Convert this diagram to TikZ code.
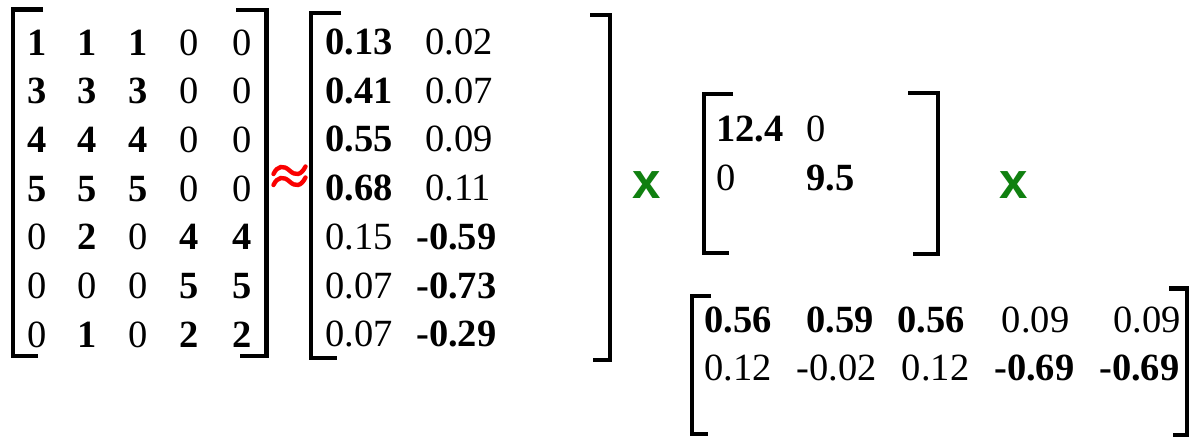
\documentclass[tikz,border=0pt]{standalone}
\usepackage{fontspec}
\setmainfont{Liberation Serif}
\newfontfamily\xsans{Liberation Sans}
\newcommand\cellfont{\fontsize{38.5}{40}\selectfont}
\definecolor{opgreen}{RGB}{16,128,16}
\definecolor{aprxred}{RGB}{250,0,0}
\tikzset{
  ent/.style={inner sep=0pt, anchor=base west, font=\cellfont},
  entb/.style={ent, font=\cellfont\bfseries},
  cen/.style={inner sep=0pt, anchor=base, font=\cellfont},
  cenb/.style={cen, font=\cellfont\bfseries},
  brk/.style={line width=4.2pt, line join=miter, line cap=butt},
  opx/.style={inner sep=0pt, text=opgreen, font=\xsans\bfseries\fontsize{51}{51}\selectfont},
  wave/.style={draw=aprxred, line width=4.4pt, line cap=round},
}
\begin{document}
\begin{tikzpicture}[x=1pt,y=-1pt]
\fill[white] (0,0) rectangle (1200,445);
\useasboundingbox (0,0) rectangle (1200,445);
% ---------- matrix A (7x5) ----------
\draw[brk] (43,9.5) -- (13,9.5) -- (13,356) -- (38,356);
\draw[brk] (236,10) -- (266.5,10) -- (266.5,356) -- (240,356);
% row 1
\node[cenb] (a11) at (36.7,55) {1};
\node[cenb] (a12) at (87.3,55) {1};
\node[cenb] (a13) at (138.3,55) {1};
\node[cen]  (a14) at (189.3,55) {0};
\node[cen]  (a15) at (241.7,55) {0};
% row 2
\node[cenb] (a21) at (36.7,103.7) {3};
\node[cenb] (a22) at (87.3,103.7) {3};
\node[cenb] (a23) at (138.3,103.7) {3};
\node[cen]  (a24) at (189.3,103.7) {0};
\node[cen]  (a25) at (241.7,103.7) {0};
% row 3
\node[cenb] (a31) at (36.7,152.3) {4};
\node[cenb] (a32) at (87.3,152.3) {4};
\node[cenb] (a33) at (138.3,152.3) {4};
\node[cen]  (a34) at (189.3,152.3) {0};
\node[cen]  (a35) at (241.7,152.3) {0};
% row 4
\node[cenb] (a41) at (36.7,201) {5};
\node[cenb] (a42) at (87.3,201) {5};
\node[cenb] (a43) at (138.3,201) {5};
\node[cen]  (a44) at (189.3,201) {0};
\node[cen]  (a45) at (241.7,201) {0};
% row 5
\node[cen]  (a51) at (36.7,249.7) {0};
\node[cenb] (a52) at (87.3,249.7) {2};
\node[cen]  (a53) at (138.3,249.7) {0};
\node[cenb] (a54) at (189.3,249.7) {4};
\node[cenb] (a55) at (241.7,249.7) {4};
% row 6
\node[cen]  (a61) at (36.7,298.3) {0};
\node[cen]  (a62) at (87.3,298.3) {0};
\node[cen]  (a63) at (138.3,298.3) {0};
\node[cenb] (a64) at (189.3,298.3) {5};
\node[cenb] (a65) at (241.7,298.3) {5};
% row 7
\node[cen]  (a71) at (36.7,347) {0};
\node[cenb] (a72) at (87.3,347) {1};
\node[cen]  (a73) at (138.3,347) {0};
\node[cenb] (a74) at (189.3,347) {2};
\node[cenb] (a75) at (241.7,347) {2};
% ---------- approx sign ----------
\draw[wave] (273.5,174) .. controls (277.5,165.5) and (283.5,165) .. (289.5,170.5) .. controls (295.5,176) and (301,175.5) .. (305.5,166.5);
\draw[wave] (273.5,185) .. controls (277.5,176.5) and (283.5,176) .. (289.5,181.5) .. controls (295.5,187) and (301,186.5) .. (305.5,177.5);
% ---------- matrix U (7x2) ----------
\draw[brk] (341,13) -- (311,13) -- (311,358) -- (337,358);
\draw[brk] (590,15) -- (610,15) -- (610,360) -- (593,360);
\node[entb] (u11) at (325,54.5) {0.13};
\node[ent]  (u12) at (425,54.5) {0.02};
\node[entb] (u21) at (325,103.3) {0.41};
\node[ent]  (u22) at (425,103.3) {0.07};
\node[entb] (u31) at (325,151.8) {0.55};
\node[ent]  (u32) at (425,151.8) {0.09};
\node[entb] (u41) at (325,200.3) {0.68};
\node[ent]  (u42) at (425,200.3) {0.11};
\node[ent]  (u51) at (325,249.3) {0.15};
\node[entb] (u52) at (416,249.3) {-0.59};
\node[ent]  (u61) at (325,298.2) {0.07};
\node[entb] (u62) at (416,298.2) {-0.73};
\node[ent]  (u71) at (325,346.7) {0.07};
\node[entb] (u72) at (416,346.7) {-0.29};
% ---------- times signs ----------
\node[opx] (x1) at (646.7,185) {x};
\node[opx] (x2) at (1014,185.5) {x};
% ---------- matrix S (2x2) ----------
\draw[brk] (733,94) -- (704,94) -- (704,253) -- (729,253);
\draw[brk] (908,93) -- (938,93) -- (938,254) -- (913,254);
\node[entb] (s11) at (716,141) {12.4};
\node[ent]  (s12) at (806,141) {0};
\node[ent]  (s21) at (716,190) {0};
\node[entb] (s22) at (806,190) {9.5};
% ---------- matrix V^T (2x5) ----------
\draw[brk] (711,296) -- (692,296) -- (692,434) -- (708,434);
\draw[brk] (1169,288.5) -- (1187,288.5) -- (1187,435) -- (1173,435);
\node[entb] (v11) at (704.3,332.7) {0.56};
\node[entb] (v12) at (806,332.7) {0.59};
\node[entb] (v13) at (897.3,332.7) {0.56};
\node[ent]  (v14) at (1001.7,332.7) {0.09};
\node[ent]  (v15) at (1113.3,332.7) {0.09};
\node[ent]  (v21) at (704,380) {0.12};
\node[ent]  (v22) at (796.7,380) {-0.02};
\node[ent]  (v23) at (901.7,380) {0.12};
\node[entb] (v24) at (994,380) {-0.69};
\node[entb] (v25) at (1099,380) {-0.69};
\end{tikzpicture}
\end{document}
